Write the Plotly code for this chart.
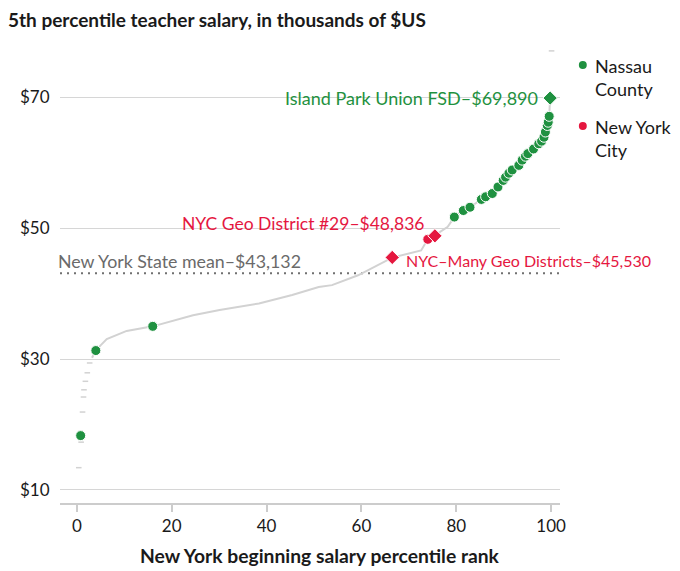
import plotly.graph_objects as go

# ---- data ----
curve_x = [3.2, 4.0, 5.0, 6.3, 10.5, 16.0, 24.5, 30.1, 38.4, 45.4, 51.0, 53.8, 59.3, 64.2, 66.5,
           72.6, 74.0, 75.5, 78.2, 79.6, 81.5, 82.9, 85.3, 87.6, 88.8, 89.9, 91.1, 93.2, 95.1,
           96.3, 97.4, 98.5, 99.2, 99.6, 99.8]
curve_y = [30.2, 31.3, 32.1, 33.05, 34.3, 35.0, 36.7, 37.5, 38.5, 39.8, 41.0, 41.3, 42.8, 44.6, 45.5,
           46.6, 48.3, 48.9, 50.2, 51.7, 52.7, 53.2, 54.4, 55.3, 56.3, 57.3, 58.4, 59.6, 61.4,
           62.1, 62.9, 63.9, 65.7, 67.1, 69.9]
sparse_x = [0.4, 0.9, 1.2, 1.4, 1.5, 1.8, 2.2, 2.7, 100.1]
sparse_y = [13.4, 17.3, 21.9, 24.2, 25.3, 26.6, 27.9, 29.4, 77.1]

nassau_x = [0.8, 4.0, 16.0, 79.6, 81.5, 82.9, 85.3, 86.2, 87.6, 88.8, 89.9, 90.4, 91.1, 91.8,
            93.2, 93.9, 94.6, 95.1, 96.3, 97.4, 98.0, 98.5, 98.8, 99.2, 99.4, 99.6]
nassau_y = [18.3, 31.3, 35.0, 51.7, 52.7, 53.2, 54.4, 54.8, 55.3, 56.3, 57.3, 57.8, 58.4, 58.9,
            59.6, 60.4, 61.0, 61.4, 62.1, 62.9, 63.3, 63.9, 64.7, 65.7, 66.2, 67.1]
island_park = (99.8, 69.89)

nyc_diamond_x = [66.5, 75.5]
nyc_diamond_y = [45.53, 48.836]
nyc_dot_x = [74.0]
nyc_dot_y = [48.3]

state_mean = 43.132
y_ticks = [10, 30, 50, 70]
y_ticktext = ["$10", "$30", "$50", "$70"]
x_ticks = [0, 20, 40, 60, 80, 100]

GREEN = "#1f9140"
RED = "#e5173f"
GREY_LINE = "#d2d2d2"
FONT = "Lato"
INK = "#1a1a1a"

fig = go.Figure()
fig.add_trace(go.Scatter(x=curve_x, y=curve_y, mode="lines",
                         line=dict(color=GREY_LINE, width=2), hoverinfo="skip"))
fig.add_trace(go.Scatter(x=sparse_x, y=sparse_y, mode="markers",
                         marker=dict(symbol="line-ew", size=4, line=dict(color=GREY_LINE, width=1.5)),
                         hoverinfo="skip"))
fig.add_trace(go.Scatter(x=nassau_x, y=nassau_y, mode="markers",
                         marker=dict(color=GREEN, size=10, line=dict(color="white", width=1))))
fig.add_trace(go.Scatter(x=[island_park[0]], y=[island_park[1]], mode="markers",
                         marker=dict(color=GREEN, size=11, symbol="diamond", line=dict(color="white", width=1))))
fig.add_trace(go.Scatter(x=nyc_dot_x, y=nyc_dot_y, mode="markers",
                         marker=dict(color=RED, size=10, line=dict(color="white", width=1))))
fig.add_trace(go.Scatter(x=nyc_diamond_x, y=nyc_diamond_y, mode="markers",
                         marker=dict(color=RED, size=11, symbol="diamond", line=dict(color="white", width=1))))

# state mean dotted line
fig.add_shape(type="line", xref="paper", x0=0, x1=1, yref="y", y0=state_mean, y1=state_mean,
              line=dict(color="#707070", width=2, dash="2px,5px"), layer="below")

fig.add_annotation(x=island_park[0], y=island_park[1], text="Island Park Union FSD–$69,890",
                   showarrow=False, xanchor="right", yanchor="middle", xshift=-10,
                   font=dict(family=FONT, size=18, color=GREEN))
fig.add_annotation(x=nyc_diamond_x[1], y=nyc_diamond_y[1], text="NYC Geo District #29–$48,836",
                   showarrow=False, xanchor="right", yanchor="middle", xshift=-9, yshift=12,
                   font=dict(family=FONT, size=17.5, color=RED))
fig.add_annotation(x=nyc_diamond_x[0], y=nyc_diamond_y[0], text="NYC–Many Geo Districts–$45,530",
                   showarrow=False, xanchor="left", yanchor="middle", xshift=12, yshift=-3,
                   font=dict(family=FONT, size=16.0, color=RED))
fig.add_annotation(xref="paper", x=-0.008, y=state_mean, text="New York State mean–$43,132",
                   showarrow=False, xanchor="left", yanchor="middle", yshift=12,
                   font=dict(family=FONT, size=17.8, color="#6a6a6a"))

# geometry (page has an 8px body margin; reference pixel coords are page coords)
OFF = 8
W, H = 680 - OFF, 571 - OFF
L, T = 56 - OFF, 45 - OFF
R = W - (560 - OFF)
B = H - (503 - OFF)
pw, ph = W - L - R, H - T - B

def px_to_paper(px, py):
    return (px - OFF - L) / pw, (H - B - (py - OFF)) / ph

for (lx, ly), col, label in [((583, 65), GREEN, "Nassau<br>County"),
                             ((583, 126), RED, "New York<br>City")]:
    cx, cy = px_to_paper(lx, ly)
    rx, ry = 4 / pw, 4 / ph
    fig.add_shape(type="circle", xref="paper", yref="paper",
                  x0=cx - rx, x1=cx + rx, y0=cy - ry, y1=cy + ry,
                  fillcolor=col, line=dict(width=0))
    tx, ty = px_to_paper(593, ly - 12)
    fig.add_annotation(xref="paper", yref="paper", x=tx, y=ty, text=label, showarrow=False,
                       xanchor="left", yanchor="top", align="left",
                       font=dict(family=FONT, size=18, color=INK))

# x-axis title
ax, ay = px_to_paper(318, 555)
fig.add_annotation(xref="paper", yref="paper", x=ax, y=ay,
                   text="<b>New York beginning salary percentile rank</b>",
                   showarrow=False, xanchor="center", yanchor="middle",
                   font=dict(family=FONT, size=19.3, color=INK))

fig.update_layout(
    width=W, height=H, margin=dict(l=L, r=R, t=T, b=B),
    paper_bgcolor="white", plot_bgcolor="white", showlegend=False,
    title=dict(text="<b>5th percentile teacher salary, in thousands of $US</b>",
               x=0.0, xanchor="left", y=1 - (20 - OFF) / H, yanchor="middle",
               font=dict(family=FONT, size=19, color=INK)),
    font=dict(family=FONT, color=INK),
)
fig.update_xaxes(range=[-3.556, 101.88], tickvals=x_ticks, showgrid=False, zeroline=False,
                 showline=True, linecolor="#cccccc", linewidth=1.5,
                 ticks="outside", ticklen=7, tickcolor="#cccccc", tickwidth=1.5,
                 tickfont=dict(family=FONT, size=17, color=INK))
fig.update_yaxes(range=[8.0, 78.0], tickvals=y_ticks, ticktext=y_ticktext, showgrid=True,
                 gridcolor="#d6d6d6", gridwidth=1.2, zeroline=False, showline=False,
                 ticks="outside", ticklen=6, tickcolor="rgba(0,0,0,0)",
                 tickfont=dict(family=FONT, size=17, color=INK))

fig.write_html("out.html")
